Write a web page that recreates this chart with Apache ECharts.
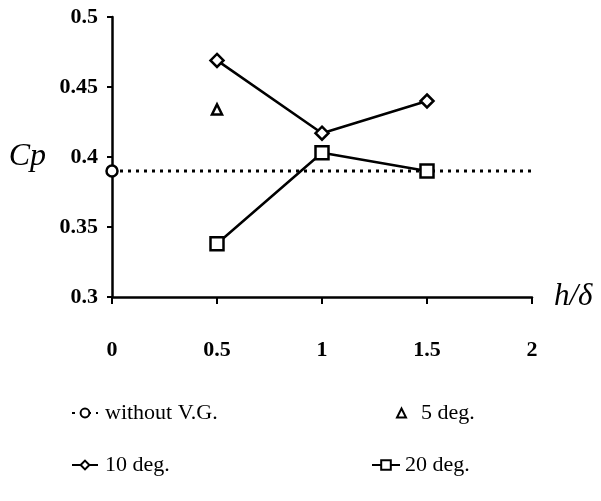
<!DOCTYPE html>
<html>
<head>
<meta charset="utf-8">
<script src="https://cdn.jsdelivr.net/npm/echarts@6/dist/echarts.min.js"></script>
<style>
  html, body { margin: 0; padding: 0; background: #fff; }
  #chart { width: 601px; height: 501px; }
</style>
</head>
<body>
<div id="chart"></div>
<script>
// h/delta positions and Cp values
const xTicks = [0, 0.5, 1, 1.5, 2];
const baseX = [0, 2];
const baseCp = [0.39, 0.39];
const deg5X = [0.5];
const deg5Cp = [0.434];
const deg10X = [0.5, 1, 1.5];
const deg10Cp = [0.469, 0.417, 0.44];
const deg20X = [0.5, 1, 1.5];
const deg20Cp = [0.338, 0.403, 0.39];

const font = '"Liberation Serif", "Times New Roman", serif';
const pairs = (xs, ys) => xs.map((x, i) => [x, ys[i]]);

let chart = echarts.init(document.getElementById('chart'));

let markerStyle = { color: '#fff', borderColor: '#000', borderWidth: 2.5, opacity: 1 };
let legendText = { fontFamily: font, fontSize: 22, color: '#000' };

// one small legend per entry so each icon can get its own size
function legendItem(name, left, top, w, h, textPad) {
    return {
        data: [name],
        left: left, top: top,
        itemWidth: w, itemHeight: h,
        textStyle: Object.assign({ padding: [0, 0, 0, textPad] }, legendText)
    };
}

let option = {
    animation: false,
    backgroundColor: '#fff',
    grid: { left: 112, right: 69, top: 17, bottom: 204, containLabel: false, outerBoundsMode: 'none' },
    xAxis: {
        type: 'value',
        min: 0, max: 2, interval: 0.5,
        name: 'h/δ',
        nameLocation: 'end',
        nameGap: 22,
        nameTextStyle: { fontFamily: font, fontStyle: 'italic', fontSize: 31, color: '#000', verticalAlign: 'middle', padding: [10, 0, 0, 0] },
        axisLine: { lineStyle: { color: '#000', width: 2.5 } },
        axisTick: { inside: false, length: 7, lineStyle: { color: '#000', width: 2 } },
        axisLabel: { margin: 42, fontFamily: font, fontSize: 22, fontWeight: 'bold', color: '#000', formatter: v => String(v) },
        splitLine: { show: false }
    },
    yAxis: {
        type: 'value',
        min: 0.3, max: 0.5, interval: 0.05,
        name: 'Cp',
        nameLocation: 'middle',
        nameRotate: 0,
        nameGap: 66,
        nameTextStyle: { fontFamily: font, fontStyle: 'italic', fontSize: 32, color: '#000', padding: [14, 0, 0, 0] },
        axisLine: { show: true, lineStyle: { color: '#000', width: 2.5 } },
        axisTick: { show: true, length: 5, lineStyle: { color: '#000', width: 2 } },
        axisLabel: { margin: 14, fontFamily: font, fontSize: 22, fontWeight: 'bold', color: '#000' },
        splitLine: { show: false }
    },
    legend: [
        legendItem('without V.G.', 66, 397, 26, 11, 2),
        legendItem('10 deg.', 66, 449, 26, 11, 2),
        legendItem('5 deg.', 391, 397, 9, 9, 10),
        legendItem('20 deg.', 366, 449, 28, 12, 0)
    ],
    series: [
        {
            name: 'without V.G.',
            type: 'line',
            data: pairs(baseX, baseCp).map((p, i) => i === 0 ? p : { value: p, symbol: 'none' }),
            symbol: 'circle', symbolSize: 11,
            itemStyle: markerStyle,
            lineStyle: { color: '#000', width: 3, type: [3, 5] }
        },
        {
            name: '5 deg.',
            type: 'scatter',
            data: pairs(deg5X, deg5Cp),
            symbol: 'triangle', symbolSize: 10,
            itemStyle: markerStyle
        },
        {
            name: '10 deg.',
            type: 'line',
            data: pairs(deg10X, deg10Cp),
            symbol: 'diamond', symbolSize: 13,
            itemStyle: markerStyle,
            lineStyle: { color: '#000', width: 2.5 }
        },
        {
            name: '20 deg.',
            type: 'line',
            data: pairs(deg20X, deg20Cp),
            symbol: 'rect', symbolSize: 13,
            itemStyle: markerStyle,
            lineStyle: { color: '#000', width: 2.5 }
        }
    ]
};

chart.setOption(option);
</script>
</body>
</html>
